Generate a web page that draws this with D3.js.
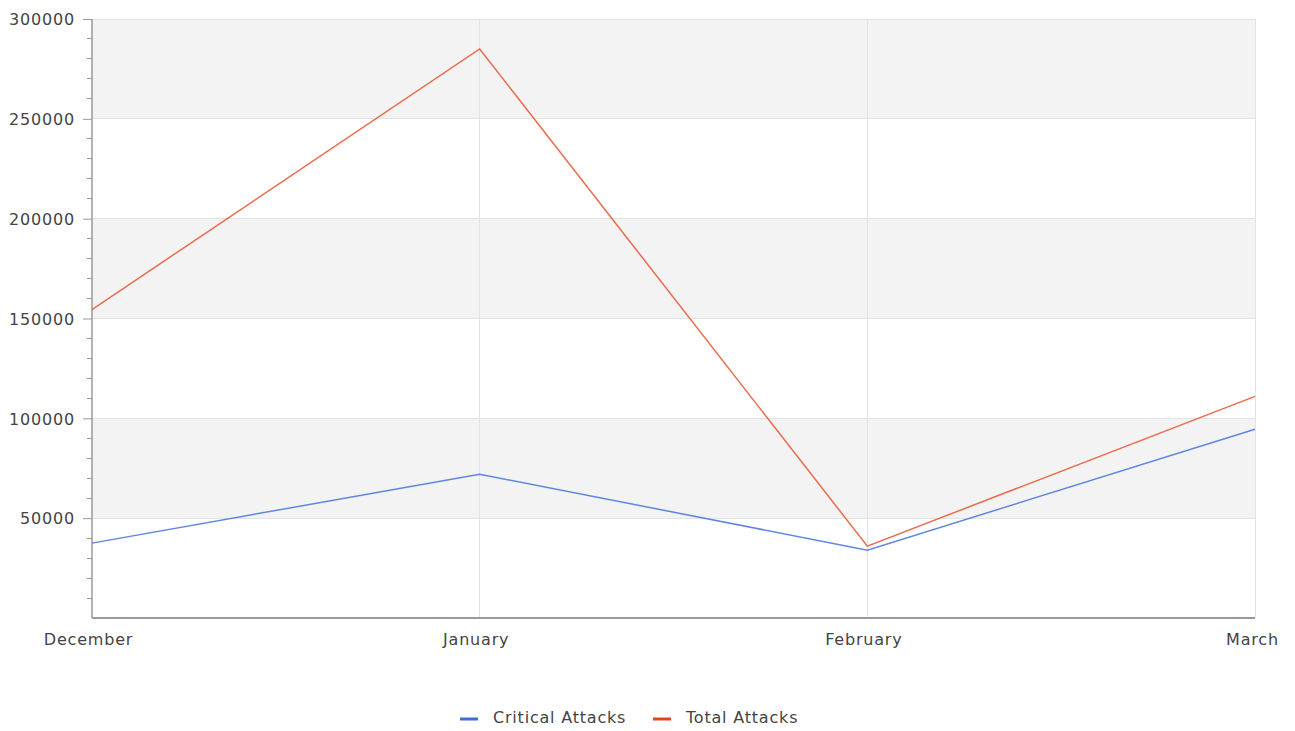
<!DOCTYPE html>
<meta charset="utf-8">
<style>
body { margin: 0; background: #fff; }
svg text {
    font-family: 'DejaVu Sans';
    font-size: 16px;
    letter-spacing: 0.8px;
    fill: #444;
}
.line { fill: none; stroke-width: 1.5px; }
</style>
<svg id="svg" width="1295" height="731"></svg>
<script src="https://d3js.org/d3.v7.min.js"></script>
<script>

const months = ['December', 'January', 'February', 'March'];
const criticalAttacks = [37500, 72000, 34000, 94500];
const totalAttacks = [154500, 285000, 36000, 111000];
const yTicks = [50000, 100000, 150000, 200000, 250000, 300000];

const series = [
    {name: 'Critical Attacks', values: criticalAttacks, color: '#5f86e0', key: '#3a6fd8'},
    {name: 'Total Attacks', values: totalAttacks, color: '#ec6a4c', key: '#e04522'}
];

let margin = {top: 19, right: 40, bottom: 113, left: 92},
    width = 1295 - margin.left - margin.right,
    height = 731 - margin.top - margin.bottom;

let svg = d3.select('#svg');
let g = svg.append('g').attr('transform', translate(margin.left, margin.top));

let x = d3.scalePoint().domain(months).range([0, width]);
let y = d3.scaleLinear().domain([0, 300000]).range([height, 0]);

// alternating bands
let bands = [[50000, 100000], [150000, 200000], [250000, 300000]];
g.selectAll('.band')
    .data(bands)
    .enter().append('rect')
    .attr('x', 0)
    .attr('width', width)
    .attr('y', d => y(d[1]))
    .attr('height', d => y(d[0]) - y(d[1]))
    .attr('fill', '#f3f3f3');

// horizontal grid
g.selectAll('.hgrid')
    .data(yTicks)
    .enter().append('line')
    .attr('x1', 0).attr('x2', width)
    .attr('y1', d => y(d)).attr('y2', d => y(d))
    .attr('stroke', '#e3e3e3')
    .attr('shape-rendering', 'crispEdges');

// vertical grid
g.selectAll('.vgrid')
    .data(months.slice(1))
    .enter().append('line')
    .attr('x1', d => x(d)).attr('x2', d => x(d))
    .attr('y1', 0).attr('y2', height)
    .attr('stroke', '#e3e3e3')
    .attr('shape-rendering', 'crispEdges');

// minor ticks
let minor = d3.range(10000, 300001, 10000).filter(v => v % 50000 !== 0);
g.selectAll('.minor')
    .data(minor)
    .enter().append('line')
    .attr('x1', -5).attr('x2', 0)
    .attr('y1', d => y(d)).attr('y2', d => y(d))
    .attr('stroke', '#999')
    .attr('shape-rendering', 'crispEdges');

let yAxis = d3.axisLeft(y).tickValues(yTicks).tickSize(9).tickPadding(8).tickFormat(d3.format('d'));
let ya = g.append('g').call(yAxis);
ya.select('.domain').attr('stroke', '#999').attr('stroke-width', 1.5).attr('d', 'M0,0V' + height);
ya.selectAll('.tick line').attr('stroke', '#999');
ya.selectAll('text').attr('fill', '#444').attr('dy', '0.36em');

let xAxis = d3.axisBottom(x).tickSize(0).tickPadding(16);
let xa = g.append('g').attr('transform', translate(0, height)).call(xAxis);
xa.select('.domain').attr('stroke', '#999').attr('stroke-width', 2).attr('d', 'M0,0H' + width);
xa.selectAll('text').attr('fill', '#444').attr('dy', '0.71em');
// labels sit a little left of their gridlines
xa.selectAll('.tick text').attr('dx', (d, i) => i === months.length - 1 ? -3 : -4);

let line = d3.line()
    .x((d, i) => x(months[i]))
    .y(d => y(d));

g.selectAll('.series')
    .data(series)
    .enter().append('path')
    .attr('class', 'line')
    .attr('stroke', d => d.color)
    .attr('d', d => line(d.values));

// legend
let legendX = [460, 653];
let legend = svg.append('g').attr('transform', translate(0, 717));
let items = legend.selectAll('g')
    .data(series)
    .enter().append('g')
    .attr('transform', (d, i) => translate(legendX[i], 0));
items.append('line')
    .attr('x1', 0).attr('x2', 18)
    .attr('y1', 2).attr('y2', 2)
    .attr('stroke', d => d.key)
    .attr('stroke-width', 3);
items.append('text')
    .attr('x', 33)
    .attr('dy', '0.35em')
    .text(d => d.name);

function translate(x, y) {
    return 'translate(' + x + ',' + y + ')';
}
</script>
